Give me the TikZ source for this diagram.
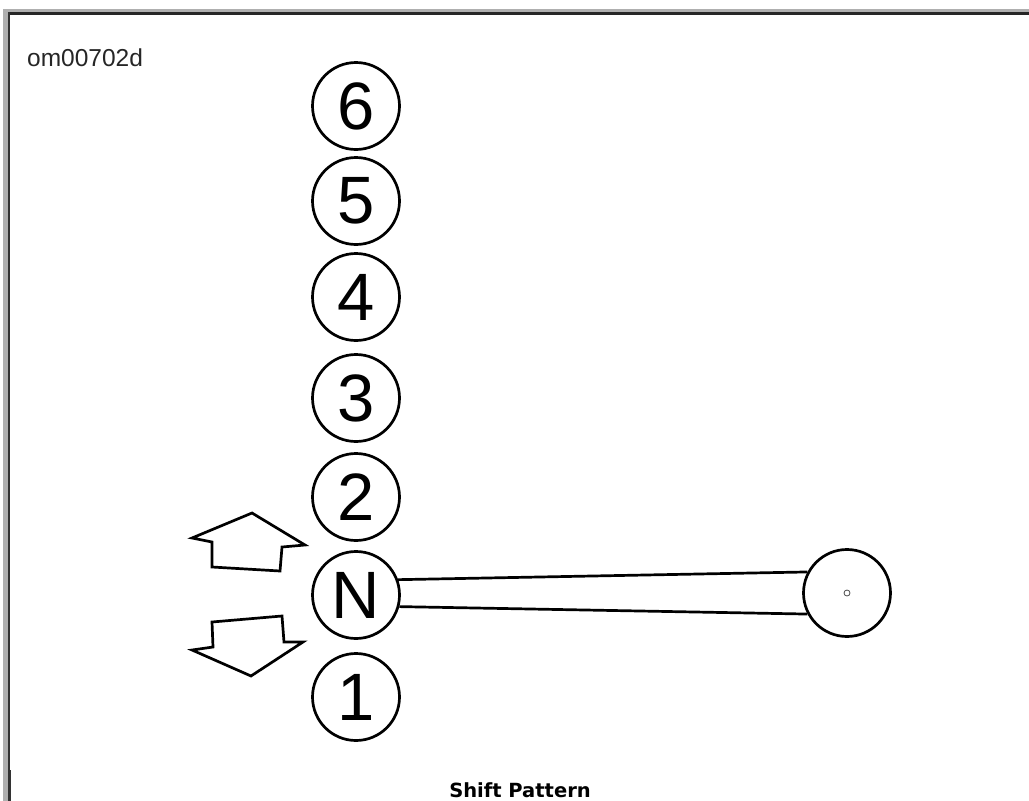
\documentclass[tikz,border=0pt]{standalone}
\usepackage{fontspec}
\setmainfont{Liberation Sans}
\newfontfamily\titlefont{DejaVu Sans}
\begin{document}
\begin{tikzpicture}[x=1pt,y=-1pt,
  gear/.style={draw=black,line width=2.7pt,circle,minimum size=87pt,inner sep=0pt,
    font=\fontsize{67}{67}\selectfont},
  outl/.style={draw=black,line width=2.7pt,line join=miter},
  lever/.style={draw=black,line width=2.7pt}]
\useasboundingbox (0,0) rectangle (1029,801);
\fill[white] (0,0) rectangle (1029,801);
% frame
\fill[gray!95!black!60] (8,9) rectangle (1029,12);
\fill[black!85] (8,12) rectangle (1029,14.5);
\fill[gray!95!black!60] (3,9) rectangle (8,801);
\fill[black!80] (8,12) rectangle (9.5,770);
\fill[black!80] (8,770) rectangle (10.5,801);
% code
\node[anchor=base west,inner sep=0pt,font=\fontsize{24.5}{25}\selectfont,text=black!85] (code) at (27,66) {om00702d};
% gear circles
\node[gear] (g6) at (356,106) {6};
\node[gear] (g5) at (356,201) {5};
\node[gear] (g4) at (356,297) {4};
\node[gear] (g3) at (356,398) {3};
\node[gear] (g2) at (356,497) {2};
\node[gear] (gN) at (356,595) {N};
\node[gear] (g1) at (356,697) {1};
% knob
\node[draw=black,line width=2.7pt,circle,minimum size=87pt,inner sep=0pt] (knob) at (847,593) {};
\node[draw=black!70,line width=0.8pt,circle,minimum size=6pt,inner sep=0pt] (pivot) at (847,593) {};
% lever
\draw[lever] (gN.20) -- (knob.152);
\draw[lever] (gN.-15) -- (knob.208);
% arrows
\draw[outl] (252,513) -- (305,545) -- (282,547) -- (280,571) -- (212,567) -- (212,542) -- (192,538) -- cycle;
\draw[outl] (212,622) -- (282,616) -- (284,642) -- (303,642) -- (251,676) -- (192,650) -- (213,647) -- cycle;
% title
\node[anchor=base,inner sep=0pt,font=\titlefont\bfseries\fontsize{19.5}{20}\selectfont] (title) at (520,797) {Shift Pattern};
\end{tikzpicture}
\end{document}
